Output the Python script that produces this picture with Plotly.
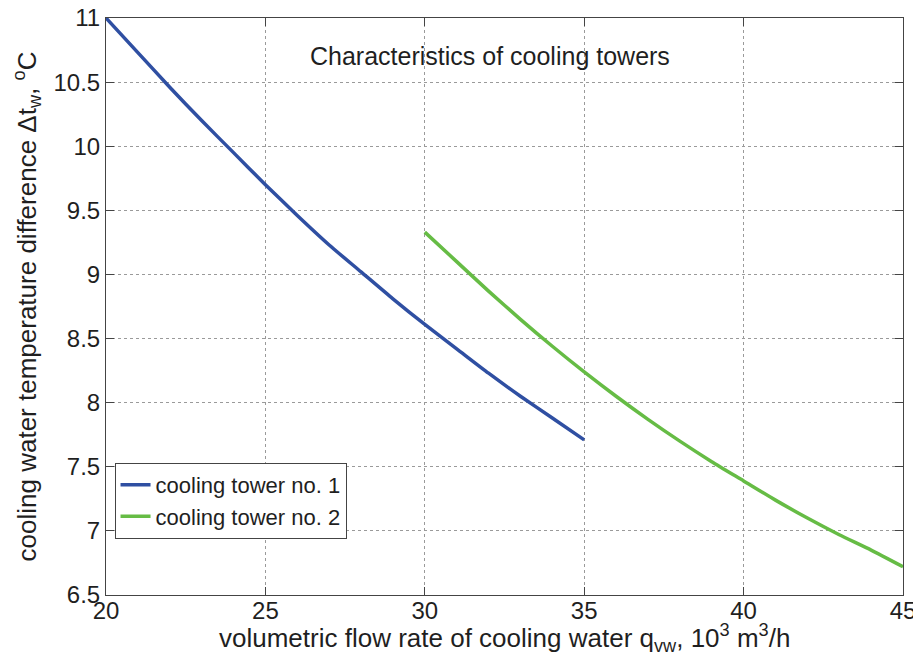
import plotly.graph_objects as go

# Cooling tower no. 1
x1 = [20, 21, 22, 23, 24, 25, 26, 27, 28, 29, 30, 31, 32, 33, 34, 35]
y1 = [11.0, 10.73, 10.46, 10.20, 9.95, 9.70, 9.46, 9.23, 9.02, 8.81, 8.61, 8.42, 8.23, 8.05, 7.88, 7.71]

# Cooling tower no. 2
x2 = [30, 31, 32, 33, 34, 35, 36, 37, 38, 39, 40, 41, 42, 43, 44, 45]
y2 = [9.33, 9.10, 8.87, 8.65, 8.44, 8.24, 8.05, 7.87, 7.70, 7.54, 7.39, 7.24, 7.10, 6.97, 6.85, 6.72]

x_ticks = [20, 25, 30, 35, 40, 45]
y_ticks = [6.5, 7, 7.5, 8, 8.5, 9, 9.5, 10, 10.5, 11]
y_tick_labels = ["6.5", "7", "7.5", "8", "8.5", "9", "9.5", "10", "10.5", "11"]

names = ["cooling tower no. 1", "cooling tower no. 2"]
colors = ["#2F4FA2", "#66BC45"]
title_text = "Characteristics of cooling towers"
x_title = "volumetric flow rate of cooling water q<sub>vw</sub>, 10<sup>3</sup> m<sup>3</sup>/h"
y_title = "cooling water temperature difference \u0394t<sub>w</sub>, <sup>o</sup>C"

FONT = "Arial, Liberation Sans, Helvetica, sans-serif"
TXT = "#1f1f1f"

fig = go.Figure()
fig.add_trace(go.Scatter(x=x1, y=y1, mode="lines", name=names[0],
                         line=dict(color=colors[0], width=3.5, shape="spline", smoothing=0.6)))
fig.add_trace(go.Scatter(x=x2, y=y2, mode="lines", name=names[1],
                         line=dict(color=colors[1], width=3.5, shape="spline", smoothing=0.6)))

axis_common = dict(
    showline=True, linecolor="#444444", linewidth=1, mirror="ticks",
    ticks="inside", ticklen=8, tickcolor="#444444",
    showgrid=True, gridcolor="#9a9a9a", griddash="dot", gridwidth=1,
    zeroline=False, automargin=False, ticklabeloverflow="allow",
    tickfont=dict(family=FONT, size=24, color=TXT),
)

fig.update_xaxes(range=[20, 45], tickvals=x_ticks, ticklabelstandoff=-6, **axis_common)
fig.update_yaxes(range=[6.5, 11], tickvals=y_ticks, ticktext=y_tick_labels,
                 title=dict(text=y_title, font=dict(family=FONT, size=26, color=TXT), standoff=9),
                 **axis_common)

fig.add_annotation(x=0.5, y=0, xref="paper", yref="paper", text=x_title, showarrow=False,
                   xanchor="center", yanchor="middle", yshift=-43,
                   font=dict(family=FONT, size=26, color=TXT))

fig.add_annotation(x=32.05, y=10.70, xref="x", yref="y", text=title_text, showarrow=False,
                   font=dict(family=FONT, size=25, color=TXT))

# page body adds an 8px offset, so figure is sized/margined to compensate
fig.update_layout(
    width=913, height=661,
    margin=dict(l=98, r=18, t=10, b=74),
    plot_bgcolor="white", paper_bgcolor="white",
    legend=dict(x=0.0107, y=0.229, xanchor="left", yanchor="top",
                bgcolor="white", bordercolor="#444444", borderwidth=1,
                font=dict(family=FONT, size=22, color=TXT),
                tracegroupgap=0),
    showlegend=True,
)

fig.write_html("out.html")
